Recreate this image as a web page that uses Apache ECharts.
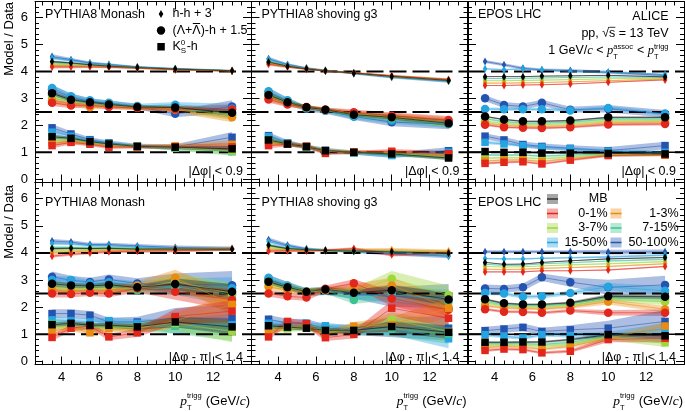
<!DOCTYPE html>
<html><head><meta charset="utf-8">
<script src="https://cdn.jsdelivr.net/npm/echarts@6/dist/echarts.min.js"></script>
<style>html,body{margin:0;padding:0;background:#fff}#c{width:685px;height:412px}</style>
</head><body><div id="c"></div>
<script>
// ---------------- DATA ----------------
const ptTrigg = [3.5, 4.5, 5.5, 6.5, 8, 10, 13];
const classNames = ['MB', '0-1%', '1-3%', '3-7%', '7-15%', '15-50%', '50-100%'];
const xMajorTicks = [4, 6, 8, 10, 12];
const xMinorTicks = [3, 3.5, 4.5, 5, 5.5, 6.5, 7, 7.5, 8.5, 9, 9.5, 10.5, 11, 11.5, 12.5, 13, 13.5];
const yMajorTicks = [0, 1, 2, 3, 4, 5, 6];
const yMinorTicks = [0.2,0.4,0.6,0.8,1.2,1.4,1.6,1.8,2.2,2.4,2.6,2.8,3.2,3.4,3.6,3.8,4.2,4.4,4.6,4.8,5.2,5.4,5.6,5.8,6.2,6.4];
const refLevels = [1, 2.5, 4];

// rows: MB, 0-1%, 1-3%, 3-7%, 7-15%, 15-50%, 50-100%
const nearMonashHH = [
  [4.37,4.32,4.25,4.20,4.15,4.09,4.03],
  [4.17,4.17,4.17,4.16,4.12,4.07,4.02],
  [4.22,4.20,4.20,4.18,4.13,4.07,4.02],
  [4.28,4.25,4.22,4.19,4.14,4.08,4.03],
  [4.33,4.29,4.24,4.20,4.15,4.09,4.03],
  [4.50,4.42,4.31,4.25,4.17,4.10,4.03],
  [4.56,4.44,4.32,4.26,4.17,4.10,4.03]];
const nearMonashLam = [
  [3.19,2.95,2.86,2.78,2.68,2.66,2.47],
  [2.84,2.74,2.75,2.68,2.65,2.60,2.59],
  [2.92,2.80,2.67,2.70,2.66,2.58,2.30],
  [3.02,2.88,2.80,2.74,2.67,2.62,2.38],
  [3.12,2.93,2.84,2.78,2.68,2.64,2.42],
  [3.39,3.08,2.93,2.84,2.72,2.77,2.62],
  [3.33,3.05,2.90,2.82,2.70,2.43,2.70]];
const nearMonashK0 = [
  [1.58,1.52,1.40,1.31,1.22,1.19,1.13],
  [1.25,1.37,1.30,1.19,1.20,1.20,1.20],
  [1.35,1.40,1.32,1.24,1.22,1.24,1.30],
  [1.45,1.45,1.36,1.27,1.22,1.18,1.05],
  [1.55,1.50,1.38,1.30,1.22,1.15,1.02],
  [1.75,1.60,1.44,1.33,1.23,1.17,1.20],
  [1.91,1.68,1.47,1.35,1.24,1.20,1.56]];
const nearShovingHH = [
  [4.35,4.20,4.10,4.03,3.94,3.82,3.67],
  [4.27,4.17,4.09,4.02,3.95,3.84,3.70],
  [4.30,4.18,4.10,4.03,3.95,3.83,3.69],
  [4.32,4.19,4.10,4.03,3.94,3.82,3.68],
  [4.36,4.21,4.11,4.03,3.94,3.81,3.67],
  [4.45,4.25,4.12,4.04,3.93,3.80,3.64],
  [4.47,4.26,4.13,4.04,3.93,3.79,3.65]];
const nearShovingLam = [
  [3.13,2.86,2.67,2.58,2.40,2.30,2.08],
  [2.96,2.78,2.68,2.58,2.49,2.36,2.20],
  [3.02,2.80,2.67,2.58,2.45,2.33,2.15],
  [3.08,2.84,2.67,2.57,2.42,2.30,2.10],
  [3.15,2.87,2.66,2.56,2.38,2.26,2.07],
  [3.27,2.93,2.64,2.55,2.33,2.18,2.05],
  [3.24,2.90,2.62,2.54,2.33,2.12,2.05]];
const nearShovingK0 = [
  [1.46,1.31,1.21,1.06,1.00,0.94,0.79],
  [1.25,1.30,1.23,0.96,1.00,1.04,0.95],
  [1.35,1.30,1.22,1.05,1.02,1.00,0.90],
  [1.42,1.31,1.21,1.05,1.00,0.96,0.85],
  [1.48,1.32,1.21,1.04,0.99,0.93,0.82],
  [1.58,1.34,1.20,1.05,0.98,0.88,1.00],
  [1.62,1.35,1.20,1.08,0.99,0.90,1.06]];
const nearEposHH = [
  [3.81,3.81,3.81,3.83,3.84,3.86,3.80],
  [3.48,3.48,3.50,3.51,3.54,3.60,3.69],
  [3.57,3.57,3.58,3.59,3.62,3.66,3.72],
  [3.66,3.66,3.67,3.68,3.70,3.73,3.75],
  [3.74,3.74,3.75,3.76,3.78,3.80,3.78],
  [4.10,4.07,4.10,4.07,4.00,3.97,3.89],
  [4.37,4.25,4.12,4.06,4.04,3.97,3.85]];
const nearEposLam = [
  [2.33,2.22,2.15,2.15,2.18,2.30,2.30],
  [2.02,1.93,1.91,1.90,1.93,2.03,2.05],
  [2.08,2.00,1.97,1.96,1.99,2.10,2.12],
  [2.15,2.07,2.03,2.03,2.06,2.17,2.18],
  [2.25,2.14,2.09,2.09,2.12,2.24,2.24],
  [2.61,2.60,2.60,2.60,2.55,2.65,2.43],
  [3.01,2.76,2.70,2.84,2.58,2.62,2.43]];
const nearEposK0 = [
  [1.03,1.00,1.00,0.97,0.97,0.96,0.94],
  [0.59,0.63,0.65,0.57,0.71,0.88,0.91],
  [0.68,0.71,0.72,0.66,0.77,0.90,0.90],
  [0.78,0.80,0.80,0.76,0.83,0.92,0.90],
  [0.90,0.90,0.90,0.86,0.90,0.94,0.92],
  [1.37,1.31,1.25,1.19,1.13,1.04,1.00],
  [1.60,1.46,1.29,1.22,1.15,1.06,1.25]];
const awayMonashHH = [
  [4.16,4.17,4.16,4.17,4.14,4.14,4.14],
  [3.88,3.95,4.00,4.04,4.06,4.08,4.14],
  [4.00,4.04,4.07,4.09,4.10,4.15,4.15],
  [4.08,4.10,4.12,4.13,4.12,4.12,4.14],
  [4.20,4.20,4.19,4.18,4.16,4.13,4.14],
  [4.35,4.33,4.28,4.27,4.22,4.17,4.15],
  [4.44,4.40,4.31,4.31,4.26,4.20,4.16]];
const awayMonashLam = [
  [2.86,2.80,2.78,2.82,2.73,2.85,2.57],
  [2.50,2.48,2.53,2.50,2.69,2.57,2.27],
  [2.65,2.60,2.62,2.60,2.80,3.08,2.10],
  [2.72,2.68,2.70,2.70,2.68,2.95,2.50],
  [2.80,2.75,2.75,2.78,2.62,2.75,2.45],
  [3.00,3.00,2.87,2.92,2.80,2.75,2.70],
  [3.12,2.99,2.93,3.02,2.87,2.85,2.81]];
const awayMonashK0 = [
  [1.35,1.40,1.33,1.33,1.27,1.45,1.27],
  [0.88,1.22,1.30,0.90,1.05,1.65,1.85],
  [1.10,1.25,1.05,1.20,1.20,1.50,2.10],
  [1.25,1.30,1.25,1.25,1.25,1.40,1.10],
  [1.40,1.35,1.30,1.30,1.25,1.30,1.15],
  [1.53,1.50,1.45,1.50,1.40,1.30,1.35],
  [1.76,1.76,1.70,1.45,1.45,1.60,1.58]];
const awayShovingHH = [
  [4.28,4.16,4.12,4.09,4.07,4.04,3.99],
  [4.06,4.08,4.07,4.10,4.16,3.93,4.00],
  [4.12,4.10,4.09,4.10,4.12,4.12,4.07],
  [4.20,4.12,4.10,4.09,4.08,4.05,4.02],
  [4.30,4.17,4.12,4.09,4.07,4.03,3.96],
  [4.42,4.24,4.14,4.10,4.06,4.00,3.90],
  [4.49,4.28,4.15,4.10,4.06,3.98,3.88]];
const awayShovingLam = [
  [2.94,2.73,2.57,2.65,2.53,2.62,2.28],
  [2.50,2.40,2.35,2.68,2.88,2.32,1.90],
  [2.75,2.62,2.55,2.62,2.70,2.80,1.98],
  [2.85,2.70,2.57,2.63,2.55,3.05,2.45],
  [2.95,2.76,2.58,2.62,2.26,2.55,2.20],
  [3.08,2.80,2.56,2.60,2.45,2.45,2.30],
  [3.02,2.78,2.55,2.60,2.50,2.38,2.40]];
const awayShovingK0 = [
  [1.31,1.26,1.22,1.14,1.14,1.28,1.07],
  [0.90,1.47,1.38,0.87,0.99,1.96,1.59],
  [1.10,1.30,1.30,1.00,1.30,1.35,1.96],
  [1.15,1.20,1.25,1.10,1.15,1.53,1.10],
  [1.25,1.25,1.25,1.15,1.12,1.20,1.00],
  [1.40,1.35,1.30,1.31,1.15,1.25,0.83],
  [1.55,1.41,1.40,1.20,1.16,1.25,1.22]];
const awayEposHH = [
  [3.65,3.58,3.59,3.65,3.71,3.78,3.83],
  [3.30,3.30,3.30,3.34,3.34,3.37,3.50],
  [3.40,3.39,3.40,3.43,3.46,3.50,3.60],
  [3.50,3.48,3.49,3.52,3.56,3.60,3.68],
  [3.58,3.54,3.55,3.60,3.64,3.70,3.76],
  [3.79,3.78,3.78,3.80,3.82,3.85,3.92],
  [4.04,4.04,4.04,4.04,4.04,4.03,4.04]];
const awayEposLam = [
  [2.29,2.14,2.10,2.10,2.16,2.40,2.38],
  [1.92,1.83,1.82,1.79,1.87,1.79,1.79],
  [2.05,1.97,1.95,1.93,2.00,2.20,1.92],
  [2.15,2.04,2.02,2.00,2.06,2.30,2.20],
  [2.22,2.09,2.06,2.05,2.11,2.35,2.30],
  [2.52,2.50,2.38,2.40,2.52,2.75,2.60],
  [2.69,2.67,2.73,3.10,2.92,2.73,2.82]];
const awayEposK0 = [
  [0.70,0.70,0.71,0.71,0.80,0.98,0.94],
  [0.40,0.45,0.43,0.31,0.37,0.80,0.85],
  [0.50,0.55,0.52,0.45,0.55,0.85,1.30],
  [0.58,0.60,0.60,0.55,0.62,0.88,0.68],
  [0.65,0.65,0.66,0.62,0.70,0.93,0.80],
  [0.98,0.92,0.86,0.98,0.95,0.95,1.20],
  [1.13,1.19,1.25,1.10,1.16,1.22,1.47]];

// band half-widths (uncertainties) per pT bin
const nearMonashErr  = [[0.06,0.05,0.04,0.04,0.03,0.03,0.03],[0.12,0.10,0.08,0.08,0.08,0.10,0.18],[0.10,0.08,0.07,0.07,0.06,0.08,0.15]];
const nearShovingErr = [[0.06,0.04,0.03,0.03,0.03,0.04,0.05],[0.12,0.10,0.08,0.08,0.10,0.12,0.15],[0.10,0.08,0.07,0.07,0.06,0.08,0.10]];
const nearEposErr    = [[0.02,0.02,0.02,0.02,0.02,0.02,0.02],[0.04,0.04,0.04,0.04,0.04,0.05,0.05],[0.04,0.04,0.04,0.04,0.04,0.05,0.05]];
const awayMonashErr  = [[0.06,0.05,0.05,0.05,0.05,0.06,0.06],[0.15,0.13,0.12,0.14,0.15,0.30,0.40],[0.12,0.12,0.12,0.12,0.15,0.28,0.40]];
const awayShovingErr = [[0.06,0.05,0.04,0.04,0.05,0.06,0.06],[0.12,0.12,0.12,0.12,0.15,0.28,0.35],[0.12,0.12,0.12,0.12,0.15,0.28,0.35]];
const awayEposErr    = [[0.02,0.02,0.02,0.02,0.02,0.03,0.03],[0.05,0.05,0.05,0.05,0.06,0.10,0.12],[0.05,0.05,0.05,0.05,0.06,0.10,0.15]];
const pythiaBandScale = [0.7,1,1,1,1,1,1.3];
const eposBandScale   = [0.7,1,1,1,1,1.4,2.8];

// ---------------- LAYOUT / STYLE ----------------
const colLeft = [35, 251.5, 468];
const colWidth = 216;
const rowTop = [1.5, 182.5];
const rowHeight = [181, 182];
const X_MIN = 2.6, X_MAX = 14, Y_MIN = -0.12, Y_MAX = 6.6;
const classColors = ['#000000','#e3261c','#e98c12','#9fd63c','#3cc391','#24a4e1','#2454b0'];
const bandColors = ['rgba(60,60,60,0.45)','rgba(227,38,28,0.38)','rgba(233,140,18,0.38)','rgba(159,214,60,0.4)','rgba(60,195,145,0.38)','rgba(36,164,225,0.38)','rgba(36,84,176,0.38)'];
const drawOrder = [6,5,4,3,2,1,0];
const symbols = ['diamond','circle','rect'];
const symbolSizes = [[4.5,8], 8.5, 7.5];
const FONT = '"Liberation Sans", Arial, sans-serif';

const panels = [
  {row:0,col:0,title:'PYTHIA8 Monash',    groups:[nearMonashHH,nearMonashLam,nearMonashK0],    errs:nearMonashErr,  scale:pythiaBandScale, epos:false},
  {row:0,col:1,title:'PYTHIA8 shoving g3',groups:[nearShovingHH,nearShovingLam,nearShovingK0], errs:nearShovingErr, scale:pythiaBandScale, epos:false},
  {row:0,col:2,title:'EPOS LHC',          groups:[nearEposHH,nearEposLam,nearEposK0],          errs:nearEposErr,    scale:eposBandScale,   epos:true},
  {row:1,col:0,title:'PYTHIA8 Monash',    groups:[awayMonashHH,awayMonashLam,awayMonashK0],    errs:awayMonashErr,  scale:pythiaBandScale, epos:false},
  {row:1,col:1,title:'PYTHIA8 shoving g3',groups:[awayShovingHH,awayShovingLam,awayShovingK0], errs:awayShovingErr, scale:pythiaBandScale, epos:false},
  {row:1,col:2,title:'EPOS LHC',          groups:[awayEposHH,awayEposLam,awayEposK0],          errs:awayEposErr,    scale:eposBandScale,   epos:true}
];

const grids = [], xAxes = [], yAxes = [], series = [], graphics = [];
const black = '#000';

function xAx(g, pos, major, labels) {
  return {gridIndex:g, type:'value', min:X_MIN, max:X_MAX, position:pos,
    axisLine:{show:major, onZero:false, lineStyle:{color:black, width:1}},
    axisTick:{show:true, inside:true, length:major?8:4, customValues:major?xMajorTicks:xMinorTicks, lineStyle:{color:black, width:1}},
    axisLabel:{show:labels, customValues:xMajorTicks, color:black, fontSize:13, fontFamily:FONT, margin:6},
    splitLine:{show:false}, minorTick:{show:false}};
}
function yAx(g, pos, major, labels) {
  return {gridIndex:g, type:'value', min:Y_MIN, max:Y_MAX, position:pos,
    axisLine:{show:major, onZero:false, lineStyle:{color:black, width:1}},
    axisTick:{show:true, inside:true, length:major?8:4, customValues:major?yMajorTicks:yMinorTicks, lineStyle:{color:black, width:1}},
    axisLabel:{show:labels, customValues:yMajorTicks, color:black, fontSize:13, fontFamily:FONT, margin:7},
    splitLine:{show:false}, minorTick:{show:false}};
}
function bandRenderer(band, color) {
  return function (params, api) {
    if (params.dataIndex !== 0) return null;
    const up = band.map(d => api.coord([d[0], d[2]]));
    const lo = band.map(d => api.coord([d[0], d[1]])).reverse();
    return {type:'polygon', shape:{points:up.concat(lo)}, style:{fill:color}};
  };
}

panels.forEach((p, g) => {
  grids.push({left:colLeft[p.col], top:rowTop[p.row], width:colWidth, height:rowHeight[p.row], containLabel:false, outerBoundsMode:'none'});
  xAxes.push(xAx(g,'bottom',true,p.row===1), xAx(g,'bottom',false,false), xAx(g,'top',true,false), xAx(g,'top',false,false));
  yAxes.push(yAx(g,'left',true,p.col===0), yAx(g,'left',false,false), yAx(g,'right',true,false), yAx(g,'right',false,false));
  const xi = 4*g, yi = 4*g;
  p.groups.forEach((grp, s) => {
    drawOrder.forEach(c => {
      const vals = grp[c], err = p.errs[s], sc = p.scale[c];
      const band = ptTrigg.map((x,i) => [x, vals[i]-err[i]*sc, vals[i]+err[i]*sc]);
      series.push({type:'custom', name:classNames[c], xAxisIndex:xi, yAxisIndex:yi, z:1, silent:true, clip:true,
        encode:{x:0, y:[1,2]}, data:band, renderItem:bandRenderer(band, bandColors[c])});
      series.push({type:'line', name:classNames[c], xAxisIndex:xi, yAxisIndex:yi, z:3, silent:true,
        data:ptTrigg.map((x,i)=>[x, vals[i]]), symbol:symbols[s], symbolSize:symbolSizes[s], showSymbol:true,
        itemStyle:{color:classColors[c]}, lineStyle:{color:classColors[c], width:1, opacity:0.55}});
    });
  });
  refLevels.forEach(l => {
    series.push({type:'line', xAxisIndex:xi, yAxisIndex:yi, z:2, silent:true, showSymbol:false,
      data:[[X_MIN,l],[X_MAX,l]], lineStyle:{color:black, width:2, type:[17,6]}});
  });
  if (p.epos) {
    series.push({type:'line', xAxisIndex:xi, yAxisIndex:yi, z:2, silent:true, showSymbol:false,
      data:[[X_MIN,1],[X_MAX,1]], lineStyle:{color:black, width:1.5}});
  }
});

// ---------------- TEXT ----------------
const mctx = document.createElement('canvas').getContext('2d');
function tw(t, font) { mctx.font = font; return mctx.measureText(t).width; }
function txt(t, x, y, font, align, rot) {
  const el = {type:'text', x:x, y:y, z:100, silent:true,
    style:{text:t, font:font, fill:black, align:align||'left', verticalAlign:'middle', textAlign:align||'left', textVerticalAlign:'middle'}};
  if (rot) el.rotation = rot;
  return el;
}
function compose(parts, x, y, align) {
  const widths = parts.map(p => p.sup !== undefined ? Math.max(tw(p.sup,p.font), tw(p.sub,p.font)) + 0.5 : tw(p.text,p.font));
  const total = widths.reduce((a,b)=>a+b,0);
  let cx = align === 'right' ? x - total : x;
  parts.forEach((p,i) => {
    if (p.sup !== undefined) {
      graphics.push(txt(p.sup, cx, y + p.supDy, p.font));
      graphics.push(txt(p.sub, cx, y + p.subDy, p.font));
    } else graphics.push(txt(p.text, cx, y + (p.dy||0), p.font));
    cx += widths[i];
  });
}
const F12 = '12.5px ' + FONT;
const F13 = '13px ' + FONT;
const FSMALL = '7.5px ' + FONT;
const FIT = 'italic 13.5px "Liberation Serif", serif';
const FITs = 'italic 12.5px "Liberation Serif", serif';

panels.forEach(p => {
  const left = colLeft[p.col], right = left + colWidth;
  const top = rowTop[p.row];
  graphics.push(txt(p.title, left + 10, top + (p.row===0 ? 13.5 : 20.5), F12, 'left'));
  if (p.row === 0) graphics.push(txt('|\u0394\u03c6| < 0.9', right - 8, 172, F12, 'right'));
  else graphics.push(txt('|\u0394\u03c6 - \u03c0| < 1.4', right - 8, 357.5, F12, 'right'));
  if (p.row === 1) {
    compose([
      {text:'p', font:FIT},
      {sup:'trigg', sub:'T', font:FSMALL, supDy:-5, subDy:7},
      {text:' (GeV/', font:F13},
      {text:'c', font:FIT},
      {text:')', font:F13}
    ], right - 1, 401, 'right');
  }
});
// y-axis titles
graphics.push(txt('Model / Data', 9.5, 2, F13, 'right', Math.PI/2));
graphics.push(txt('Model / Data', 9.5, 185, F13, 'right', Math.PI/2));

// species legend (top-left panel)
graphics.push({type:'polygon', z:100, silent:true, shape:{points:[[161,10],[163.3,14],[161,18],[158.7,14]]}, style:{fill:black}});
graphics.push({type:'circle', z:100, silent:true, shape:{cx:161, cy:30.5, r:4.2}, style:{fill:black}});
graphics.push({type:'rect', z:100, silent:true, shape:{x:157.3, y:43, width:7.5, height:7.5}, style:{fill:black}});
graphics.push(txt('h-h + 3', 172.5, 14, F12, 'left'));
graphics.push(txt('(\u039b+\u039b)-h + 1.5', 172.5, 31, F12, 'left'));
{
  const x0 = 172.5 + tw('(\u039b+', F12), x1 = 172.5 + tw('(\u039b+\u039b', F12);
  graphics.push({type:'line', z:100, silent:true, shape:{x1:x0+0.5, y1:23.5, x2:x1-0.5, y2:23.5}, style:{stroke:black, lineWidth:1}});
}
compose([
  {text:'K', font:F12},
  {sup:'0', sub:'S', font:'8px ' + FONT, supDy:-4, subDy:4},
  {text:'-h', font:F12}
], 172.5, 47, 'left');

// ALICE labels
graphics.push(txt('ALICE', 668.5, 17, F12, 'right'));
{
  const s = 'pp, \u221as = 13 TeV';
  graphics.push(txt(s, 668.5, 33.5, F12, 'right'));
  const xs = 668.5 - tw(s, F12) + tw('pp, \u221a', F12);
  graphics.push({type:'line', z:100, silent:true, shape:{x1:xs, y1:27.3, x2:xs + tw('s', F12), y2:27.3}, style:{stroke:black, lineWidth:0.8}});
}
compose([
  {text:'1 GeV/', font:F12},
  {text:'c', font:FITs},
  {text:' < ', font:F12},
  {text:'p', font:FITs},
  {sup:'assoc', sub:'T', font:FSMALL, supDy:-4.5, subDy:6},
  {text:' < ', font:F12},
  {text:'p', font:FITs},
  {sup:'trigg', sub:'T', font:FSMALL, supDy:-4.5, subDy:6}
], 669, 51, 'right');

// multiplicity legend (bottom-right panel)
const legendCells = [[0,0,0],[1,0,1],[2,1,1],[3,0,2],[4,1,2],[5,0,3],[6,1,3]];
const legSwatchX = [552.5, 616];
const legTextX = [607.5, 678.5];
const legRowY = [199, 213.5, 228, 242.5];
legendCells.forEach(([c, col, r]) => {
  const cx = legSwatchX[col], cy = legRowY[r];
  graphics.push({type:'rect', z:100, silent:true, shape:{x:cx-5.5, y:cy-5, width:11, height:10}, style:{fill:bandColors[c]}});
  graphics.push({type:'line', z:101, silent:true, shape:{x1:cx-5.5, y1:cy, x2:cx+5.5, y2:cy}, style:{stroke:c===0?'#333':classColors[c], lineWidth:1.5}});
  graphics.push(txt(classNames[c], legTextX[col], cy, F12, 'right'));
});

const chart = echarts.init(document.getElementById('c'), null, {renderer:'canvas'});
chart.setOption({
  animation:false,
  backgroundColor:'#fff',
  grid:grids, xAxis:xAxes, yAxis:yAxes, series:series, graphic:graphics
});
</script>
</body></html>
